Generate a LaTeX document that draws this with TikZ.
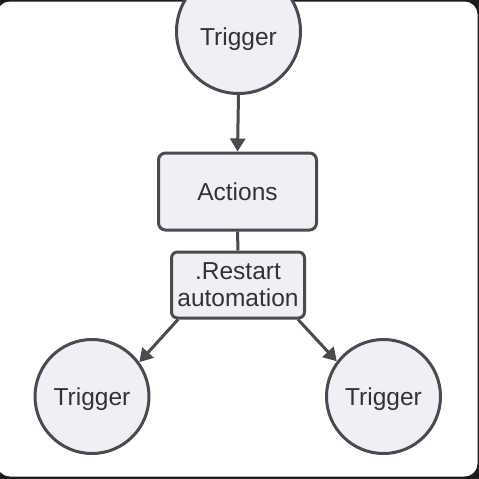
\documentclass[tikz,border=0pt]{standalone}
\usepackage{fontspec}
\setmainfont{Liberation Sans}
\usetikzlibrary{arrows.meta}
\definecolor{bgdark}{HTML}{1C1C1C}
\definecolor{nodefill}{HTML}{EFF0F5}
\definecolor{stroke}{HTML}{4A4A4F}
\definecolor{txt}{HTML}{333333}
\tikzset{
  lbl/.style={font=\fontsize{24.5pt}{27pt}\selectfont, text=txt},
  circ/.style={circle, draw=stroke, fill=nodefill, line width=3pt, inner sep=0pt, lbl},
  rbox/.style={rectangle, rounded corners=7pt, draw=stroke, fill=nodefill, line width=3pt, inner sep=0pt, lbl, align=center},
  conn/.style={draw=stroke, line width=3pt},
  arr/.style={conn, -{Triangle[length=13pt,width=15pt]}}
}
\begin{document}
\begin{tikzpicture}[x=1pt,y=-1pt]
\useasboundingbox (0,0) rectangle (479,479);
\fill[bgdark] (0,0) rectangle (479,479);
\fill[white, rounded corners=13pt] (-3,1.5) rectangle (477.5,476.5);
\node[circ, minimum size=124pt, text height=32pt, text depth=5pt] (top) at (238.5,31.5) {Trigger};
\node[rbox, minimum width=158pt, minimum height=77pt] (act) at (237.5,191.5) {Actions};
\node[rbox, minimum width=133pt, minimum height=66pt, rounded corners=6pt] (rst) at (238,285) {.Restart\\automation};
\node[circ, minimum size=114pt, text height=22pt, text depth=5pt] (bl) at (92,396.5) {Trigger};
\node[circ, minimum size=114pt, text height=22pt, text depth=5pt] (br) at (383.5,396.5) {Trigger};
\draw[arr] (top.south) -- (act.north);
\draw[conn] (act.south) -- (rst.north);
\draw[arr] ([xshift=8pt]rst.south west) -- (bl.36);
\draw[arr] ([xshift=-8pt]rst.south east) -- (br.143);
\end{tikzpicture}
\end{document}
